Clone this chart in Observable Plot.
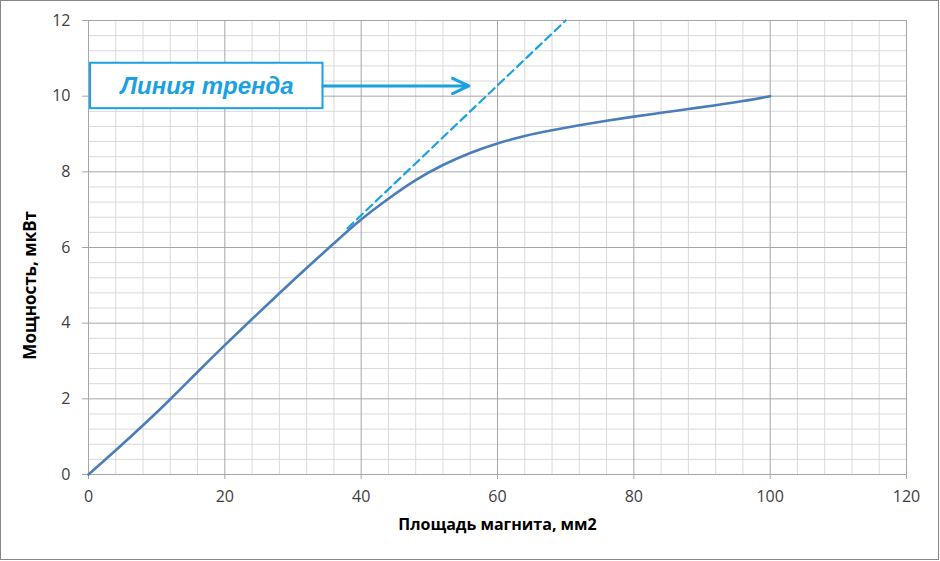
<!DOCTYPE html>
<html>
<head>
<meta charset="utf-8">
<script src="https://cdn.jsdelivr.net/npm/d3@7"></script>
<script src="https://cdn.jsdelivr.net/npm/@observablehq/plot@0.6"></script>
<style>
  html, body { margin: 0; padding: 0; background: #fff; }
  #wrap { position: relative; width: 940px; height: 561px; overflow: hidden; }
  #frame { position: absolute; left: 0; top: 0; width: 937px; height: 558px; border: 1.5px solid #878787; pointer-events: none; }
  svg { display: block; }
</style>
</head>
<body>
<div id="wrap"><div id="frame"></div></div>
<script>
// Площадь магнита (мм2) and мощность (мкВт)
const areaX  = [0, 4, 8, 12, 16, 20, 24, 28, 32, 36, 40, 44, 48, 52, 56, 60, 64, 68, 72, 76, 80, 84, 88, 92, 96, 100];
const powerY = [0, 0.64, 1.3, 1.99, 2.71, 3.42, 4.11, 4.79, 5.46, 6.11, 6.74, 7.29, 7.78, 8.18, 8.5, 8.75, 8.95, 9.1, 9.23, 9.35, 9.46, 9.56, 9.66, 9.76, 9.87, 10];

// Trend line (dashed)
const trendX = [38, 70];
const trendY = [6.51, 12];

// Ticks
const xTicks = [0, 20, 40, 60, 80, 100, 120];
const yTicks = [0, 2, 4, 6, 8, 10, 12];
const xMinor = [4, 8, 12, 16, 24, 28, 32, 36, 44, 48, 52, 56, 64, 68, 72, 76, 84, 88, 92, 96, 104, 108, 112, 116];
const yMinor = [0.4, 0.8, 1.2, 1.6, 2.4, 2.8, 3.2, 3.6, 4.4, 4.8, 5.2, 5.6, 6.4, 6.8, 7.2, 7.6, 8.4, 8.8, 9.2, 9.6, 10.4, 10.8, 11.2, 11.6];

// Labels
const xTitle = "Площадь магнита, мм2";
const yTitle = "Мощность, мкВт";
const yTitlePos = [{x: -8.5, y: 5.0}];
const noteText = "Линия тренда";
const noteBox = [{x1: 0.3, x2: 34.4, y1: 9.67, y2: 10.87}];
const noteCenter = [{x: 17.4, y: 10.27}];
const noteArrow = [{x1: 34.4, y1: 10.27, x2: 55.8, y2: 10.27}];

const curve = areaX.map((x, i) => ({x, y: powerY[i]}));
const trend = trendX.map((x, i) => ({x, y: trendY[i]}));

const blue = "#4a7ebb";
const cyan = "#1ba1e2";

const chart = Plot.plot({
  width: 940,
  height: 561,
  marginLeft: 88,
  marginRight: 34,
  marginTop: 20,
  marginBottom: 87,
  style: { fontFamily: "'Open Sans', sans-serif", background: "transparent" },
  x: { domain: [0, 120] },
  y: { domain: [0, 12] },
  marks: [
    Plot.gridX(xMinor, { stroke: "#d9d9d9", strokeOpacity: 1, strokeWidth: 1 }),
    Plot.gridY(yMinor, { stroke: "#d9d9d9", strokeOpacity: 1, strokeWidth: 1 }),
    Plot.gridX(xTicks, { stroke: "#a6a6a6", strokeOpacity: 1, strokeWidth: 1 }),
    Plot.gridY(yTicks, { stroke: "#a6a6a6", strokeOpacity: 1, strokeWidth: 1 }),
    Plot.axisX(xTicks, {
      tickSize: 5, tickPadding: 11, stroke: "#a6a6a6", fill: "#404040", fontSize: 16,
      label: xTitle, labelAnchor: "center", labelArrow: "none", labelOffset: 55
    }),
    Plot.axisY(yTicks, {
      tickSize: 6, tickPadding: 12, stroke: "#a6a6a6", fill: "#404040", fontSize: 16,
      label: null
    }),
    Plot.text(yTitlePos, {
      x: "x", y: "y", text: () => yTitle, rotate: -90, textAnchor: "middle",
      fontSize: 17, fontWeight: "bold", fill: "#000", clip: false
    }),
    Plot.line(trend, { x: "x", y: "y", stroke: cyan, strokeWidth: 2.2, strokeDasharray: "8,5" }),
    Plot.line(curve, { x: "x", y: "y", stroke: blue, strokeWidth: 2.6, curve: "natural" }),
    Plot.rect(noteBox, { x1: "x1", x2: "x2", y1: "y1", y2: "y2", fill: "white", stroke: cyan, strokeWidth: 2 }),
    Plot.text(noteCenter, { x: "x", y: "y", text: () => noteText, fill: cyan, fontSize: 24, fontWeight: "bold", fontStyle: "italic", fontFamily: "'Liberation Sans', Arial, sans-serif" }),
    Plot.arrow(noteArrow, { x1: "x1", y1: "y1", x2: "x2", y2: "y2", stroke: cyan, strokeWidth: 3, headLength: 9, headAngle: 50 })
  ]
});

// style x-axis label bold
chart.querySelectorAll("[aria-label='x-axis label'] text").forEach(t => {
  t.setAttribute("font-weight", "bold");
  t.setAttribute("font-size", "16");
  t.setAttribute("fill", "#000");
});

document.getElementById("wrap").prepend(chart);
</script>
</body>
</html>
